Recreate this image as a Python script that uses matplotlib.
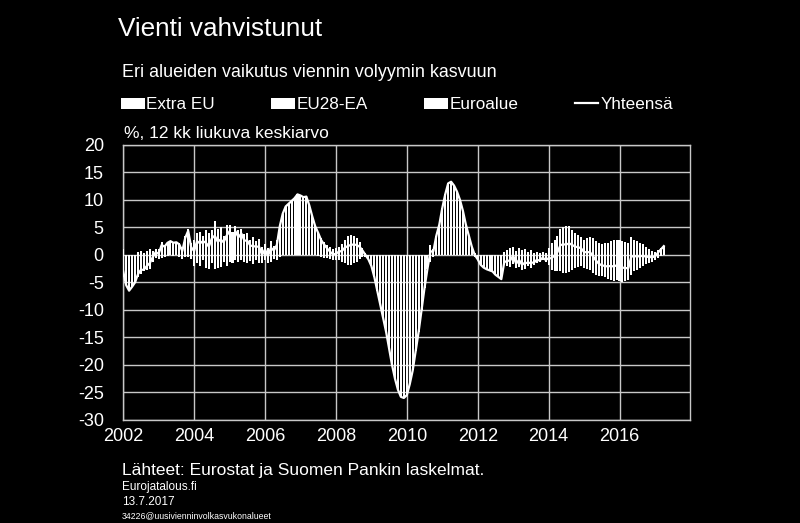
import numpy as np
import matplotlib
matplotlib.use("Agg")
import matplotlib.pyplot as plt

plt.rcParams['font.family'] = ['Liberation Sans', 'DejaVu Sans']
plt.rcParams['axes.unicode_minus'] = False

# kuukausittain 2002-01 ... 2017-04, prosenttiyksikköä
extra_eu = [
    0.7, -2.8, -3.3, -2.9, -2.5, 0.4, 0.6, 0.2, 0.6, 0.7, 0.6, 0.7,
    0.7, 1.7, 1.3, 1.7, 1.3, 1.7, 1.2, 1.5, 1.0, 2.4, 3.3, 1.5,
    1.9, 2.8, 2.9, 2.5, 3.2, 2.8, 3.2, 4.3, 3.4, 3.5, 2.5, 3.9,
    3.9, 2.9, 3.7, 3.2, 3.4, 2.7, 2.8, 2.0, 2.2, 1.8, 2.0, 1.1,
    1.4, 0.8, 1.8, 1.1, 2.0, 3.9, 3.8, 4.4, 4.7, 4.9, 5.2, 5.5,
    5.4, 5.3, 5.3, 4.5, 3.5, 2.6, 2.9, 2.1, 1.7, 1.3, 1.0, 0.7,
    0.8, 1.1, 1.3, 2.0, 2.4, 2.5, 2.4, 2.1, 1.6, 0.8, 0.2, -0.4,
    -1.0, -2.0, -3.3, -4.5, -5.8, -7.0, -8.5, -10.0, -11.3, -12.3, -12.9, -13.0,
    -12.8, -11.8, -10.5, -8.8, -7.0, -5.0, -3.0, -1.3, 1.3, 0.7, 1.8, 2.8,
    4.3, 5.5, 6.5, 6.7, 6.3, 5.8, 5.0, 4.0, 2.8, 1.8, 0.8, 0.2,
    -0.4, -0.9, -1.2, -1.3, -1.4, -1.5, -1.8, -2.0, -2.2, -1.8, -2.0, -2.2,
    -1.6, -2.4, -2.2, -2.7, -2.5, -2.1, -2.3, -1.8, -1.5, -1.3, -1.0, -1.2,
    -1.8, -2.7, -2.9, -3.0, -3.0, -3.2, -3.3, -3.1, -2.8, -2.4, -2.2, -2.1,
    -2.3, -2.5, -2.8, -3.3, -3.6, -3.8, -3.9, -4.1, -4.3, -4.5, -4.8, -4.6,
    -4.7, -4.9, -4.8, -4.6, -3.6, -3.0, -2.8, -2.4, -2.1, -1.7, -1.5, -1.2,
    -0.9, -0.5, -0.2, 0.8,
]
eu28_ea = [
    0.3, -1.1, -1.3, -1.2, -1.0, 0.1, 0.2, 0.1, 0.2, 0.3, 0.2, 0.3,
    0.3, 0.7, 0.5, 0.7, 0.5, 0.7, 0.4, 0.7, 0.5, 1.1, 1.4, 0.7,
    0.8, 1.2, 1.3, 1.0, 1.3, 1.2, 1.3, 1.8, 1.4, 1.5, 1.0, 1.6,
    1.6, 1.3, 1.6, 1.3, 1.4, 1.1, 1.2, 0.8, 1.0, 0.7, 0.9, 0.4,
    0.6, 0.4, 0.7, 0.5, 0.8, 1.6, 1.5, 1.8, 1.9, 2.0, 2.1, 2.2,
    2.2, 2.1, 2.1, 1.8, 1.4, 1.0, 1.3, 0.9, 0.7, 0.5, 0.4, 0.3,
    0.4, 0.4, 0.6, 0.8, 1.0, 1.1, 1.0, 0.9, 0.7, 0.4, 0.1, -0.2,
    -0.4, -0.8, -1.3, -1.8, -2.3, -2.8, -3.4, -4.0, -4.5, -4.9, -5.2, -5.2,
    -5.1, -4.7, -4.2, -3.5, -2.8, -2.0, -1.2, -0.5, 0.5, 0.3, 0.7, 1.1,
    1.7, 2.2, 2.6, 2.7, 2.5, 2.3, 2.0, 1.6, 1.1, 0.7, 0.3, 0.1,
    -0.2, -0.4, -0.5, -0.5, -0.6, -0.6, -0.7, -0.8, -0.9, 0.2, 0.4, 0.5,
    0.6, 0.3, 0.5, 0.4, 0.4, 0.2, 0.4, 0.2, 0.2, 0.1, 0.2, 0.1,
    0.5, 0.8, 1.1, 1.4, 1.9, 2.0, 2.1, 2.1, 1.8, 1.6, 1.4, 1.3,
    1.1, 1.2, 1.3, 1.2, 1.0, 0.9, 0.8, 0.8, 0.9, 1.0, 1.1, 1.1,
    1.1, 1.0, 1.0, 0.9, 1.3, 1.1, 1.0, 0.9, 0.8, 0.6, 0.4, 0.3,
    0.2, 0.4, 0.5, 0.3,
]
euroalue = [
    -4.0, -1.6, -1.9, -1.7, -1.5, -4.0, -3.5, -3.0, -2.8, -2.5, -1.2, -0.5,
    -0.8, -0.6, -0.3, -0.2, 0.7, -0.2, 0.7, -0.3, -0.8, -0.4, -0.3, -0.8,
    -2.0, -1.5, -2.1, -1.0, -2.3, -2.5, -1.5, -2.6, -2.4, -2.2, -1.2, -2.0,
    -1.2, -1.5, -1.0, -1.3, -0.9, -1.2, -1.4, -1.1, -1.6, -1.0, -1.4, -1.5,
    -1.0, -1.4, -1.2, -0.8, -1.0, -0.3, 2.2, 2.6, 2.7, 2.9, 3.0, 3.3,
    3.2, 3.1, 3.2, 2.7, 2.1, 1.6, -0.2, -0.3, -0.5, -0.6, -0.8, -0.9,
    -1.0, -0.9, -1.2, -1.5, -1.8, -1.8, -1.5, -1.2, -0.8, -0.4, -0.3, -0.2,
    -0.6, -1.2, -1.9, -2.7, -3.4, -4.2, -5.1, -6.0, -6.7, -7.3, -7.7, -7.8,
    -7.6, -7.0, -6.3, -5.2, -4.2, -3.0, -1.8, -0.7, -1.2, -0.3, 1.0, 1.6,
    2.5, 3.3, 3.9, 3.9, 3.8, 3.4, 3.0, 2.4, 1.6, 1.0, 0.4, -0.3,
    -0.2, -0.5, -0.6, -0.8, -0.8, -0.9, -1.1, -1.2, -1.3, 0.3, 0.5, 0.7,
    0.9, 0.5, 0.8, 0.5, 0.7, 0.4, 0.5, 0.2, 0.4, 0.2, 0.3, 0.2,
    0.7, 1.3, 1.7, 2.1, 2.9, 3.1, 3.1, 3.1, 2.8, 2.3, 2.2, 2.0,
    1.7, 1.8, 2.0, 1.9, 1.6, 1.3, 1.2, 1.3, 1.3, 1.5, 1.6, 1.6,
    1.6, 1.6, 1.4, 1.3, 2.0, 1.7, 1.5, 1.3, 1.1, 0.8, 0.7, 0.5,
    0.4, 0.5, 0.7, 0.5,
]
series = [("Extra EU", extra_eu), ("EU28-EA", eu28_ea), ("Euroalue", euroalue)]
yhteensa = np.sum([extra_eu, eu28_ea, euroalue], axis=0)

years = 2002 + np.arange(len(extra_eu)) / 12
x_ticks = [2002, 2004, 2006, 2008, 2010, 2012, 2014, 2016]
y_ticks = [20, 15, 10, 5, 0, -5, -10, -15, -20, -25, -30]

fig = plt.figure(figsize=(8, 5.23), dpi=100, facecolor='black')
ax = fig.add_axes([0.154, 0.197, 0.709, 0.526], facecolor='black')

pos_base = np.zeros(len(years))
neg_base = np.zeros(len(years))
handles = []
for name, vals in series:
    v = np.array(vals)
    bottom = np.where(v >= 0, pos_base, neg_base)
    b = ax.bar(years, v, bottom=bottom, width=0.68 / 12, color='white',
               linewidth=0, label=name, zorder=3)
    handles.append(b)
    pos_base += np.clip(v, 0, None)
    neg_base += np.clip(v, None, 0)

ln, = ax.plot(years, yhteensa, color='white', lw=1.6, label='Yhteensä', zorder=4)
handles.append(ln)

ax.set_xlim(2002, 2018)
ax.set_ylim(-30, 20)
ax.set_xticks(x_ticks)
ax.set_yticks(y_ticks)
ax.grid(True, color='#c8c8c8', lw=1.0, zorder=1)
for s in ax.spines.values():
    s.set_color('#c8c8c8')
    s.set_linewidth(1.0)
ax.tick_params(colors='white', length=0, labelsize=13, pad=6)
ax.tick_params(axis='y', pad=14)
for lab in ax.get_xticklabels() + ax.get_yticklabels():
    lab.set_color('white')

leg = ax.legend(handles=handles, ncol=4, mode='expand', frameon=False,
                bbox_to_anchor=(0.151, 0.785, 0.69, 0.03),
                bbox_transform=fig.transFigure, loc='center left',
                fontsize=12.3, handlelength=1.4, handleheight=0.6,
                handletextpad=0.1, borderaxespad=0, borderpad=0)
for t in leg.get_texts():
    t.set_color('white')

fig.text(0.147, 0.945, "Vienti vahvistunut", color='white', fontsize=18.8, va='center')
fig.text(0.152, 0.861, "Eri alueiden vaikutus viennin volyymin kasvuun", color='white',
         fontsize=12.9, va='center')
fig.text(0.155, 0.745, "%, 12 kk liukuva keskiarvo", color='white', fontsize=12.5, va='center')
fig.text(0.152, 0.101, "Lähteet: Eurostat ja Suomen Pankin laskelmat.", color='white',
         fontsize=12.5, va='center')
fig.text(0.152, 0.069, "Eurojatalous.fi", color='white', fontsize=8.5, va='center')
fig.text(0.152, 0.040, "13.7.2017", color='white', fontsize=8.5, va='center')
fig.text(0.152, 0.014, "34226@uusivienninvolkasvukonalueet", color='white', fontsize=6.3, va='center')

fig.savefig('out.png', dpi=100, facecolor='black')
